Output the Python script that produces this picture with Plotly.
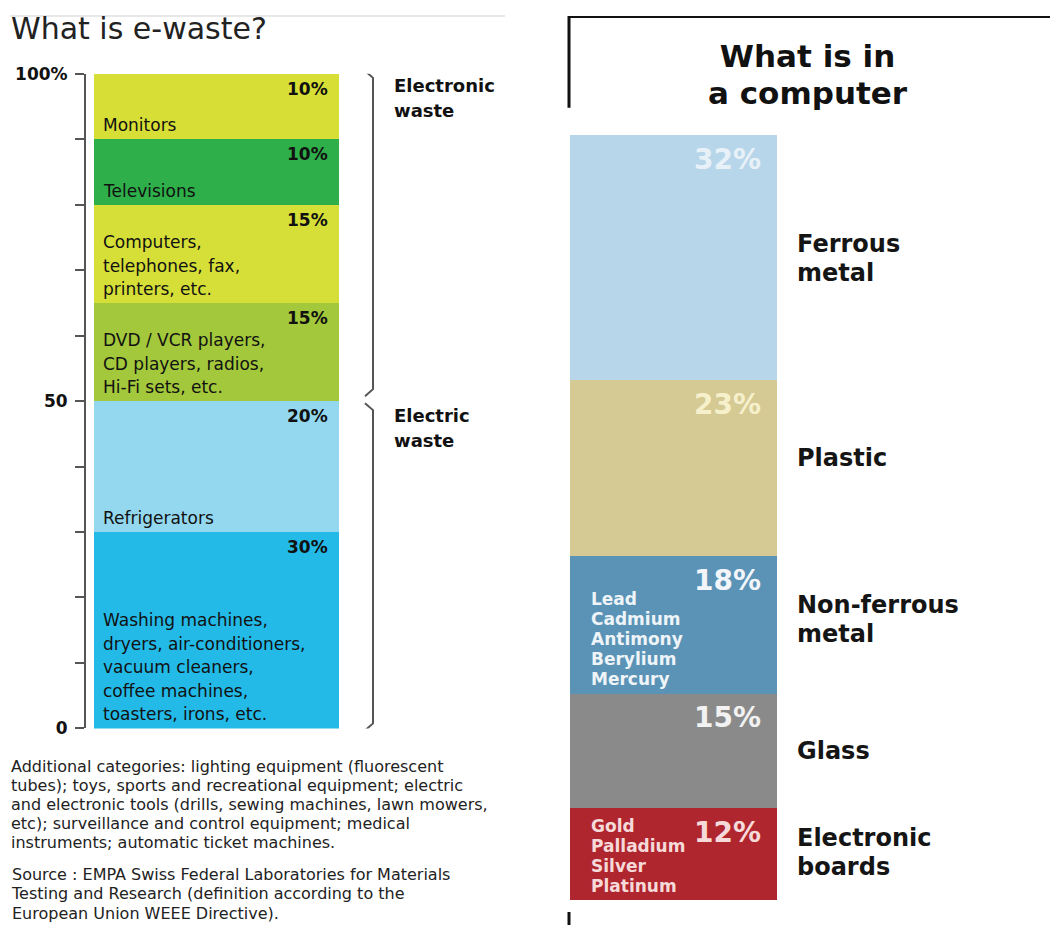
import plotly.graph_objects as go

# ---------------- data ----------------
# Left chart: composition of e-waste (% of total), listed bottom to top
ewaste_names = ["Washing machines", "Refrigerators", "DVD / VCR players",
                "Computers", "Televisions", "Monitors"]
ewaste_values = [30, 20, 15, 15, 10, 10]
ewaste_text = [
    ["Washing machines,", "dryers, air-conditioners,", "vacuum cleaners,",
     "coffee machines,", "toasters, irons, etc."],
    ["Refrigerators"],
    ["DVD / VCR players,", "CD players, radios,", "Hi-Fi sets, etc."],
    ["Computers,", "telephones, fax,", "printers, etc."],
    ["Televisions"],
    ["Monitors"],
]
# Groups shown with a bracket: (label lines, lower bound, upper bound)
ewaste_groups = [
    (["Electronic", "waste"], 50, 100),
    (["Electric", "waste"], 0, 50),
]
ewaste_ticks = list(range(0, 101, 10))
ewaste_ticktext = ["0", "", "", "", "", "50", "", "", "", "", "100%"]

notes = [
    "Additional categories: lighting equipment (fluorescent",
    "tubes); toys, sports and recreational equipment; electric",
    "and electronic tools (drills, sewing machines, lawn mowers,",
    "etc); surveillance and control equipment; medical",
    "instruments; automatic ticket machines.",
]
source = [
    "Source : EMPA Swiss Federal Laboratories for Materials",
    "Testing and Research (definition according to the",
    "European Union WEEE Directive).",
]

# Right chart: materials in a computer (%), listed bottom to top
pc_names = ["Electronic boards", "Glass", "Non-ferrous metal", "Plastic", "Ferrous metal"]
pc_values = [12, 15, 18, 23, 32]
pc_label_lines = [["Electronic", "boards"], ["Glass"], ["Non-ferrous", "metal"],
                  ["Plastic"], ["Ferrous", "metal"]]
pc_elements = [["Gold", "Palladium", "Silver", "Platinum"], [],
               ["Lead", "Cadmium", "Antimony", "Berylium", "Mercury"], [], []]

# ---------------- styles ----------------
W = 1050
TOP_OFF, FIG_H = 8, 907                # drawn page area (px)
FONT = "DejaVu Sans"
ewaste_colors = ["#23BAE8", "#93D8EF", "#A3C83B", "#D6DF38", "#2EAF4A", "#D7DF36"]
pc_colors = ["#B0262E", "#8A8A8A", "#5A93B6", "#D5CA93", "#B7D6EA"]
pc_pct_colors = ["#F6DADA", "#F2F2F2", "#F2F6FA", "#F6F0CC", "#E8F1F8"]
pc_elem_colors = ["#F6DADA", None, "#EEF4F8", None, None]
pc_elem_first = [18, 0, 43, 0, 0]     # px below segment top of first element line
ELEM_PITCH = 20
pc_label_shift = [2, 0, 5, 10, -1]    # px nudge of the category labels

L_TOP, L_BOT = 72, 728                 # left plot area (px)
R_TOP, R_BOT = 133, 900                # right plot area (px)
px_per_unit_left = (L_BOT - L_TOP) / 100


def px(x):
    return x / W


def py(y):
    return 1 - (y - TOP_OFF) / FIG_H


def multiline(lines, size, bold=False):
    """Lines of text at `size` px; line pitch comes from the annotation font size."""
    out = []
    for line in lines:
        t = f"<b>{line}</b>" if bold else line
        out.append(f'<span style="font-size:{size}px">{t}</span>')
    return "<br>".join(out)


def pitch(spacing):
    return spacing / 1.3


fig = go.Figure()

for name, v, c in zip(ewaste_names, ewaste_values, ewaste_colors):
    fig.add_trace(go.Bar(x=[0], y=[v], name=name, width=1,
                         marker=dict(color=c, line=dict(width=0)),
                         xaxis="x", yaxis="y", hoverinfo="skip"))

for name, v, c in zip(pc_names, pc_values, pc_colors):
    fig.add_trace(go.Bar(x=[0], y=[v], name=name, width=1,
                         marker=dict(color=c, line=dict(width=0)),
                         xaxis="x2", yaxis="y2", hoverinfo="skip"))

ann = []
shapes = []

# ---- left chart labels ----
bottom = 0
for v, lines in zip(ewaste_values, ewaste_text):
    top = bottom + v
    ann.append(dict(x=0.5, xref="x", y=top, yref="y", text=f"<b>{v}%</b>",
                    xanchor="right", yanchor="top", xshift=-9, yshift=-3,
                    showarrow=False, font=dict(family=FONT, size=17, color="#111")))
    n = len(lines)
    ann.append(dict(x=-0.5, xref="x", y=bottom, yref="y",
                    text=multiline(lines, 17), align="left",
                    xanchor="left", yanchor="middle", xshift=7,
                    yshift=14 + (n - 1) * 23.5 / 2, showarrow=False,
                    font=dict(family=FONT, size=pitch(23.5), color="#111")))
    bottom = top

# brackets and group labels
for lines, lo, hi in ewaste_groups:
    u = px_per_unit_left
    xa, xb = px(365), px(373)
    y0 = hi + (3 if hi == 100 else -2) / u
    y1 = y0 - 7 / u
    y3 = lo + (5 if lo == 50 else -2) / u
    y2 = y3 + 7 / u
    shapes.append(dict(type="path", xref="paper", yref="y",
                       path=f"M {xa},{y0} L {xb},{y1} L {xb},{y2} L {xa},{y3}",
                       line=dict(color="#555", width=2)))
    first = 12 if hi == 100 else 15
    ann.append(dict(x=px(392), xref="paper", y=hi, yref="y",
                    text=multiline(lines, 18, bold=True), align="left",
                    xanchor="left", yanchor="middle",
                    yshift=-(first + 24.5 / 2), showarrow=False,
                    font=dict(family=FONT, size=pitch(24.5), color="#111")))

# title, rule and notes
ann.append(dict(x=px(9), y=py(27), xref="paper", yref="paper", text="What is e-waste?",
                xanchor="left", yanchor="middle", showarrow=False,
                font=dict(family=FONT, size=30, color="#222")))
shapes.append(dict(type="line", xref="paper", yref="paper", x0=px(10), x1=px(505),
                   y0=py(14), y1=py(14), line=dict(color="#cfcfcf", width=1)))
ann.append(dict(x=px(9), y=py(766 + 2 * 19), xref="paper", yref="paper",
                text=multiline(notes, 16), align="left",
                xanchor="left", yanchor="middle", showarrow=False,
                font=dict(family=FONT, size=pitch(19), color="#222")))
ann.append(dict(x=px(9), y=py(875 + 19.3), xref="paper", yref="paper",
                text=multiline(source, 16), align="left",
                xanchor="left", yanchor="middle", showarrow=False,
                font=dict(family=FONT, size=pitch(19.3), color="#222")))

# ---- right chart labels ----
bottom = 0
for k, v in enumerate(pc_values):
    top = bottom + v
    mid = bottom + v / 2
    ann.append(dict(x=0.5, xref="x2", y=top, yref="y2", text=f"<b>{v}%</b>",
                    xanchor="right", yanchor="top", xshift=-14, yshift=-6,
                    showarrow=False,
                    font=dict(family=FONT, size=28, color=pc_pct_colors[k])))
    els = pc_elements[k]
    if els:
        ann.append(dict(x=-0.5, xref="x2", y=top, yref="y2",
                        text=multiline(els, 17, bold=True), align="left",
                        xanchor="left", yanchor="middle", xshift=19,
                        yshift=-(pc_elem_first[k] + (len(els) - 1) * ELEM_PITCH / 2),
                        showarrow=False,
                        font=dict(family=FONT, size=pitch(ELEM_PITCH),
                                  color=pc_elem_colors[k])))
    ann.append(dict(x=0.5, xref="x2", y=mid, yref="y2",
                    text=multiline(pc_label_lines[k], 24, bold=True), align="left",
                    xanchor="left", yanchor="middle", xshift=18,
                    yshift=pc_label_shift[k], showarrow=False,
                    font=dict(family=FONT, size=pitch(28.5), color="#151515")))
    bottom = top

ann.append(dict(x=px(808), y=py(73), xref="paper", yref="paper",
                text=multiline(["What is in", "a computer"], 31, bold=True),
                xanchor="center", yanchor="middle", align="center",
                showarrow=False, font=dict(family=FONT, size=pitch(36.5), color="#111")))

# frame around the right chart
shapes += [
    dict(type="line", xref="paper", yref="paper", x0=px(568), x1=1,
         y0=py(15), y1=py(15), line=dict(color="#111", width=2)),
    dict(type="line", xref="paper", yref="paper", x0=px(569), x1=px(569),
         y0=py(14), y1=py(106), line=dict(color="#111", width=3)),
    dict(type="line", xref="paper", yref="paper", x0=px(569), x1=px(569),
         y0=py(912), y1=py(925), line=dict(color="#111", width=3)),
]

fig.update_layout(
    width=W, height=925, margin=dict(l=0, r=0, t=0, b=0),
    paper_bgcolor="white", plot_bgcolor="white",
    barmode="stack", bargap=0, showlegend=False,
    xaxis=dict(domain=[px(94), px(339)], range=[-0.5, 0.5], visible=False,
               anchor="y"),
    yaxis=dict(domain=[py(L_BOT), py(L_TOP)], range=[0, 100], anchor="free",
               position=px(85), side="left", showgrid=False, zeroline=False,
               showline=True, linecolor="#555", linewidth=2,
               ticks="outside", ticklen=9, tickwidth=2, tickcolor="#555",
               tickvals=ewaste_ticks, ticktext=ewaste_ticktext,
               ticklabelstandoff=4,
               tickfont=dict(family=FONT, size=17, color="#111", weight="bold")),
    xaxis2=dict(domain=[px(570), px(777)], range=[-0.5, 0.5], visible=False,
                anchor="y2"),
    yaxis2=dict(domain=[py(R_BOT), py(R_TOP)], range=[0, 100], visible=False,
                anchor="x2"),
    annotations=ann, shapes=shapes,
)

fig.write_html("out.html")
